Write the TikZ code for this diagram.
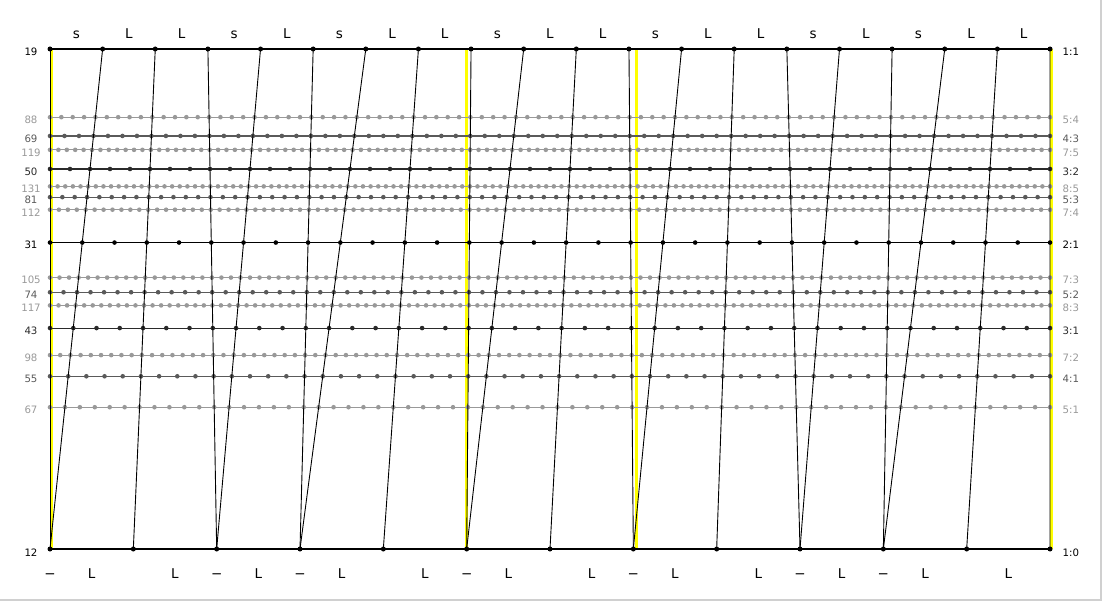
\documentclass[tikz,border=0pt]{standalone}
\usepackage{fontspec}
\setmainfont{DejaVu Sans}
\definecolor{lightline}{HTML}{999999}
\definecolor{midline}{HTML}{5A5A5A}
\definecolor{darkline}{HTML}{2A2A2A}
\definecolor{jimark}{HTML}{FFFF00}
\definecolor{framegray}{HTML}{D0D0D0}
\begin{document}
\begin{tikzpicture}[x=1pt,y=-1pt,
  num/.style={font=\fontsize{10.2}{11}\selectfont,inner sep=0pt},
  steplbl/.style={font=\fontsize{13.5}{14}\selectfont,inner sep=0pt,anchor=base},
  slant/.style={line width=0.9pt,black}]
\useasboundingbox (0,0) rectangle (1102,601);
\draw[line width=2pt,framegray] (1101,0) -- (1101,600) -- (0,600);

% yellow marks at 1:1, 4:3, 3:2, 2:1
\foreach \c in {0,0.415037,0.584963,1}
  \fill[jimark] ({50+1000*\c},49) rectangle ({53+1000*\c},549);

% 19 and 12 points
\foreach \j in {0,...,19} \coordinate (t\j) at ({50+\j*(1000/19)},49);
\foreach \i in {0,...,12} \coordinate (b\i) at ({50+\i*(1000/12)},549);

% in-between tunings
\foreach \ed/\la/\sm/\col in {88/5/4/lightline,69/4/3/midline,119/7/5/lightline,
    50/3/2/darkline,131/8/5/lightline,81/5/3/midline,112/7/4/lightline,
    31/2/1/black,105/7/3/lightline,74/5/2/midline,117/8/3/lightline,
    43/3/1/darkline,98/7/2/lightline,55/4/1/midline,67/5/1/lightline} {
  \pgfmathsetmacro\yy{49+(\la-\sm)*(6000/\ed)}
  \pgfmathsetmacro\dx{1000/\ed}
  \coordinate (l\ed) at (50,\yy);
  \coordinate (r\ed) at (1050,\yy);
  \draw[\col,line width=1.1pt] (l\ed) -- (r\ed);
  \foreach \k in {0,...,\ed} \fill[\col] ({50+\k*\dx},\yy) circle[radius=2.3pt];
  \node[num,\col,anchor=base] (n\ed) at (31,\yy+6.3) {\ed};
  \node[num,\col,anchor=base west] (q\ed) at (1062.5,\yy+6.3) {\la:\sm};
}

% top and bottom
\draw[line width=1.3pt] (t0) -- (t19);
\draw[line width=1.3pt] (b0) -- (b12);
\foreach \j in {0,...,19} \fill (t\j) circle[radius=2.5pt];
\foreach \i in {0,...,12} \fill (b\i) circle[radius=2.5pt];
\node[num,anchor=base] (n19) at (31,55.5) {19};
\node[num,anchor=base] (n12) at (31,556) {12};
\node[num,anchor=base west] (q19) at (1062.5,55.5) {1:1};
\node[num,anchor=base west] (q12) at (1062.5,556) {1:0};

% 19 to 12
\foreach \j/\i in {0/0,1/0,2/1,3/2,4/2,5/3,6/3,7/4,8/5,9/5,10/6,11/7,12/7,
    13/8,14/9,15/9,16/10,17/10,18/11,19/12}
  \draw[slant] (t\j) -- (b\i);

% step names
\foreach \j/\lab in {0/s,1/L,2/L,3/s,4/L,5/s,6/L,7/L,8/s,9/L,10/L,11/s,12/L,
    13/L,14/s,15/L,16/s,17/L,18/L}
  \node[steplbl] (u\j) at ({50+(\j+0.5)*(1000/19)},38.7) {\lab};
\foreach \i in {0,...,11}
  \node[steplbl] (v\i) at ({50+(\i+0.5)*(1000/12)},578.3) {L};
\foreach \i in {0,2,3,5,7,9,10}
  \node[steplbl] (w\i) at ({50+\i*(1000/12)},578.3) {−};
\end{tikzpicture}
\end{document}
